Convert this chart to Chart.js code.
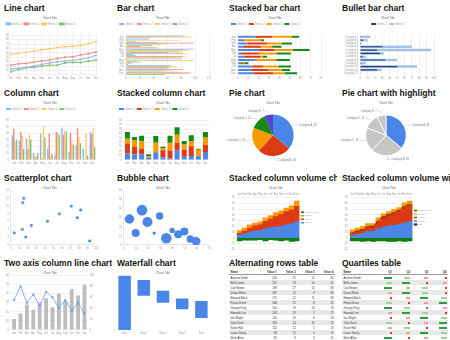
<!DOCTYPE html>
<html>
<head>
<meta charset="utf-8">
<script src="https://cdn.jsdelivr.net/npm/chart.js@4.4.1/dist/chart.umd.min.js"></script>
<style>
  html, body { margin: 0; padding: 0; background: #fff; }
  #grid { position: relative; width: 450px; height: 340px; overflow: hidden; }
  .cell { position: absolute; width: 112px; height: 85px; overflow: hidden; }
  .cell h3 { position: absolute; left: 4px; top: 3px; margin: 0; font: bold 8.5px 'Liberation Sans', sans-serif; white-space: nowrap; color: #151515; }
  .cell canvas { position: absolute; }
  table.tbl { position: absolute; left: 4px; top: 14px; width: 106px; border-collapse: collapse; font: 2.8px 'Liberation Sans', sans-serif; color: #333; }
  table.tbl td, table.tbl th { padding: 0.5px 1.5px; text-align: right; white-space: nowrap; height: 3.5px; }
  table.tbl td:first-child, table.tbl th:first-child { text-align: left; }
  table.tbl th { font-weight: bold; border-bottom: 0.5px solid #999; }
  table.tbl tr.alt td { background: #e9e9e9; }
  .qbar { display: inline-block; height: 2px; vertical-align: middle; }
</style>
</head>
<body>
<div id="grid"></div>
<script>
// ---- data ----
var months = ['Jan', 'Feb', 'Mar', 'Apr', 'May', 'Jun', 'Jul', 'Aug', 'Sep', 'Oct', 'Nov', 'Dec'];
var seriesNames = ['Series 1', 'Series 2', 'Series 3', 'Series 4'];

// line chart
var lineS1 = [13, 15, 17, 20, 24, 27, 30, 31, 33, 35, 39, 44];
var lineS2 = [22, 25, 26, 29, 32, 34, 37, 40, 41, 45, 48, 52];
var lineS3 = [47, 49, 51, 54, 57, 59, 62, 64, 65, 67, 71, 76];
var lineS4 = [7, 12, 16, 17, 20, 22, 22, 27, 28, 28, 31, 34];

// bar chart
var barS1 = [85, 33, 45, 38, 98, 60, 15, 80, 20, 65, 60, 75];
var barS2 = [78, 2, 98, 20, 85, 82, 82, 2, 8, 60, 82, 93];
var barS3 = [95, 78, 60, 40, 90, 88, 88, 98, 8, 75, 68, 92];
var barS4 = [36, 14, 50, 45, 78, 12, 70, 18, 3, 63, 55, 56];

// stacked bar chart
var sbarS1 = [17, 5, 9, 5, 20, 3, 6, 16, 3, 13, 12, 15];
var sbarS2 = [16, 1, 19, 17, 15, 17, 16, 1, 2, 11, 17, 19];
var sbarS3 = [19, 16, 14, 11, 18, 17, 2, 20, 1, 15, 13, 11];
var sbarS4 = [7, 3, 10, 9, 16, 14, 4, 13, 4, 12, 8, 12];

// bullet bar chart
var bulletCats = ['Category 1', 'Category 2', 'Category 3', 'Category 4', 'Category 5', 'Category 6',
                  'Category 7', 'Category 8', 'Category 9', 'Category 10', 'Category 11', 'Category 12'];
var bulletRange = [14, 10, 2, 70, 96, 32, 8, 50, 8, 77, 29, 1];
var bulletValue = [1, 4, 1, 30, 23, 27, 3, 34, 1, 50, 23, 0.5];

// column chart
var colS1 = [37, 29, 32, 10, 40, 17, 7, 49, 12, 22, 17, 42];
var colS2 = [47, 42, 16, 4, 2, 40, 42, 38, 41, 48, 1, 39];
var colS3 = [28, 36, 38, 6, 50, 6, 41, 44, 29, 35, 39, 48];
var colS4 = [31, 17, 31, 10, 34, 9, 38, 42, 23, 25, 7, 19];

// stacked column chart
var scolS1 = [15, 12, 13, 5, 17, 6, 3, 21, 7, 9, 8, 18];
var scolS2 = [22, 18, 12, 1, 1, 16, 18, 18, 16, 22, 1, 16];
var scolS3 = [11, 14, 17, 2, 21, 4, 18, 18, 12, 12, 14, 17];
var scolS4 = [15, 8, 13, 5, 15, 4, 16, 17, 8, 13, 2, 12];

// pie charts
var pieLabels = ['Category A', 'Category B', 'Category C', 'Category D', 'Category E'];
var pieValues = [36, 26, 19, 12, 7];

// scatter
var scatterX = [4, 14, 15, 13.5, 17.5, 24, 43, 57, 71, 78, 82, 92.6];
var scatterY = [3.1, 10.9, 12, 4, 2, 5, 6.1, 8, 10, 7, 9, 1];

// bubble
var bubbleX = [4.6, 9.7, 14.9, 19.4, 24.9, 29.4, 34.9, 39.7, 44.6, 49.7, 54.6, 59.4];
var bubbleY = [28.6, 13, 38.4, 25.3, 13, 32, 7.3, 15.9, 11.8, 14.7, 6.5, 4];
var bubbleR = [4.7, 4, 5.3, 5, 1.7, 3.7, 5.3, 2.7, 4, 4, 3.7, 4.3];

// stacked column volume chart
var volS1 = [5, 7, 10, 12, 13, 16, 18, 19, 20, 23, 25, 28];
var volS2 = [3, 5, 7, 9, 10, 13, 15, 18, 21, 23, 24, 27];
var volS3 = [5, 5, 6, 5, 5, 6, 6, 7, 6, 6, 7, 9];
var volNeg = [-5, -4, -4, -4, -3, -5, -3, -4, -5, -4, -6, -5];

// stacked column volume with total line
var vol2S1 = [4, 6, 8, 11, 12, 16, 19, 21, 22, 24, 26, 29];
var vol2S2 = [5, 6, 7, 8, 9, 13, 18, 20, 22, 24, 28, 29];
var vol2S3 = [5, 5, 5, 6, 4, 6, 5, 5, 6, 5, 7, 6];
var vol2Neg = [-5, -5, -6, -5, -6, -5, -5, -6, -6, -5, -6, -5];

// two axis column line chart
var twoAxisColumns = [12, 18, 28, 22, 30, 35, 25, 40, 32, 45, 38, 50];
var twoAxisLine = [55, 80, 50, 65, 45, 70, 60, 40, 55, 35, 50, 30];

// waterfall
var waterfallLabels = ['Start', 'Step 1', 'Step 2', 'Step 3', 'End'];
var waterfallFrom = [0, 92, 72, 58, 53];
var waterfallTo = [100, 63, 50, 38, 22];

// alternating rows table
var tableHead = ['Name', 'Value 1', 'Value 2', 'Value 3', 'Value 4'];
var tableNames = ['Andrew Smith', 'Bella Jones', 'Carl Brown', 'Diana White', 'Edward Black', 'Fiona Green',
                  'George King', 'Hannah Lee', 'Ian Wright', 'Julia Scott', 'Kevin Hall', 'Laura Young', 'Mark Allen'];
var tableV1 = [250, 212, 198, 187, 175, 166, 150, 143, 131, 120, 112, 98, 85];
var tableV2 = [31, 28, 27, 25, 22, 21, 19, 18, 16, 14, 12, 11, 9];
var tableV3 = [12, 10, 15, 9, 11, 8, 13, 7, 6, 10, 5, 4, 3];
var tableV4 = [45, 41, 38, 36, 33, 31, 29, 27, 24, 22, 19, 17, 15];

// quartiles table
var quartHead = ['Name', 'Q1', 'Q2', 'Q3', 'Q4'];
var quartNames = ['Andrew Smith', 'Bella Jones', 'Carl Brown', 'Diana White', 'Edward Black', 'Fiona Green',
                  'George King', 'Hannah Lee', 'Ian Wright', 'Julia Scott', 'Kevin Hall', 'Laura Young', 'Mark Allen'];
var quartQ1 = [4, 3, 4, 2, 1, 3, 4, 2, 1, 3, 2, 1, 4];
var quartQ2 = [3, 4, 2, 4, 2, 1, 3, 4, 2, 1, 3, 2, 1];
var quartQ3 = [2, 1, 3, 3, 4, 2, 1, 3, 4, 2, 1, 4, 2];
var quartQ4 = [1, 2, 1, 1, 3, 4, 2, 1, 3, 4, 4, 3, 3];

// ---- palettes ----
var soft = ['#93b6f2', '#ef8e80', '#fdc966', '#83c06d'];
var strong = ['#4a86e8', '#dc3a12', '#ff9900', '#138a13'];
var piePurple = '#5146c8';

// ---- layout ----
var cells = [
    ['Line chart', 'lineChart'], ['Bar chart', 'barChart'], ['Stacked bar chart', 'stackedBarChart'], ['Bullet bar chart', 'bulletChart'],
    ['Column chart', 'columnChart'], ['Stacked column chart', 'stackedColumnChart'], ['Pie chart', 'pieChart'], ['Pie chart with highlight', 'pieHighlightChart'],
    ['Scatterplot chart', 'scatterChart'], ['Bubble chart', 'bubbleChart'], ['Stacked column volume chart', 'volumeChart'], ['Stacked column volume with line', 'volumeLineChart'],
    ['Two axis column line chart', 'twoAxisChart'], ['Waterfall chart', 'waterfallChart'], ['Alternating rows table', 'altTable'], ['Quartiles table', 'quartTable']
];

var grid = document.getElementById('grid');
cells.forEach(function (c, i) {
    var div = document.createElement('div');
    div.className = 'cell';
    div.style.left = Math.round((i % 4) * 112.6) + 'px';
    div.style.top = (Math.floor(i / 4) * 85) + 'px';
    var h = document.createElement('h3');
    h.textContent = c[0];
    div.appendChild(h);
    if (c[1].indexOf('Table') < 0) {
        var cv = document.createElement('canvas');
        cv.id = c[1];
        cv.width = 100;
        cv.height = 70;
        cv.style.left = '2px';
        cv.style.top = '13px';
        div.appendChild(cv);
    } else {
        var t = document.createElement('table');
        t.id = c[1];
        t.className = 'tbl';
        div.appendChild(t);
    }
    grid.appendChild(div);
});

// ---- defaults ----
Chart.defaults.font.family = "'Liberation Sans', sans-serif";
Chart.defaults.font.size = 2.6;
Chart.defaults.color = '#9a9a9a';
Chart.defaults.animation = false;
Chart.defaults.responsive = false;
Chart.defaults.devicePixelRatio = 1;
Chart.defaults.plugins.tooltip.enabled = false;
Chart.defaults.plugins.title.display = true;
Chart.defaults.plugins.title.text = 'Chart Title';
Chart.defaults.plugins.title.color = '#666';
Chart.defaults.plugins.title.font = { size: 3, weight: 'normal' };
Chart.defaults.plugins.title.padding = { top: 3, bottom: 1 };
Chart.defaults.plugins.legend.align = 'start';
Chart.defaults.plugins.legend.labels.boxWidth = 5;
Chart.defaults.plugins.legend.labels.boxHeight = 2;
Chart.defaults.plugins.legend.labels.padding = 2;
Chart.defaults.layout.padding = { left: 2, right: 6, top: 0, bottom: 1 };
Chart.defaults.elements.point.radius = 0;

// axe commun : grille claire, pas de rotation des étiquettes
function axis(extra) {
    extra = extra || {};
    var a = Object.assign({}, extra);
    a.grid = Object.assign({ color: '#e6e6e6', drawTicks: false, lineWidth: 0.6 }, extra.grid || {});
    a.border = Object.assign({ display: false }, extra.border || {});
    a.ticks = Object.assign({ padding: 2, autoSkip: false, maxRotation: 0, minRotation: 0 }, extra.ticks || {});
    return a;
}

function el(id) {
    return document.getElementById(id).getContext('2d');
}

// Graphique: courbes
new Chart(el('lineChart'), {
    type: 'line',
    data: {
        labels: months,
        datasets: [lineS1, lineS2, lineS3, lineS4].map(function (d, i) {
            return { label: seriesNames[i], data: d, borderColor: soft[i], backgroundColor: soft[i], borderWidth: 1, pointRadius: 0.7 };
        })
    },
    options: {
        scales: {
            x: axis(),
            y: axis({ min: 0, max: 90, ticks: { stepSize: 10 } })
        }
    }
});

// Graphique: barres horizontales
new Chart(el('barChart'), {
    type: 'bar',
    data: {
        labels: months,
        datasets: [barS1, barS2, barS3, barS4].map(function (d, i) {
            return { label: seriesNames[i], data: d, backgroundColor: soft[i], categoryPercentage: 0.85, barPercentage: 1 };
        })
    },
    options: {
        indexAxis: 'y',
        scales: {
            x: axis({ min: 0, max: 120, ticks: { stepSize: 20 } }),
            y: axis({ grid: { display: false } })
        }
    }
});

// Graphique: barres empilées
new Chart(el('stackedBarChart'), {
    type: 'bar',
    data: {
        labels: months,
        datasets: [sbarS1, sbarS2, sbarS3, sbarS4].map(function (d, i) {
            return { label: seriesNames[i], data: d, backgroundColor: strong[i], categoryPercentage: 0.6, barPercentage: 1 };
        })
    },
    options: {
        indexAxis: 'y',
        scales: {
            x: axis({ stacked: true, min: 0, max: 80, ticks: { stepSize: 10 } }),
            y: axis({ stacked: true, grid: { display: false } })
        }
    }
});

// Graphique: barres bullet
new Chart(el('bulletChart'), {
    type: 'bar',
    data: {
        labels: bulletCats,
        datasets: [
            { label: 'Series 1', data: bulletRange, backgroundColor: '#a4c2e6', grouped: false, categoryPercentage: 0.75, barPercentage: 1, order: 1 },
            { label: 'Series 2', data: bulletValue, backgroundColor: '#1f3f72', grouped: false, categoryPercentage: 0.35, barPercentage: 1, order: 0 }
        ]
    },
    options: {
        indexAxis: 'y',
        plugins: { legend: { align: 'center' } },
        scales: {
            x: axis({ min: 0, max: 100, ticks: { stepSize: 10 } }),
            y: axis({ grid: { display: false } })
        }
    }
});

// Graphique: colonnes
new Chart(el('columnChart'), {
    type: 'bar',
    data: {
        labels: months,
        datasets: [colS1, colS2, colS3, colS4].map(function (d, i) {
            return { label: seriesNames[i], data: d, backgroundColor: soft[i], categoryPercentage: 0.8, barPercentage: 1 };
        })
    },
    options: {
        scales: {
            x: axis({ grid: { display: false } }),
            y: axis({ min: 0, max: 60, ticks: { stepSize: 10 } })
        }
    }
});

// Graphique: colonnes empilées
new Chart(el('stackedColumnChart'), {
    type: 'bar',
    data: {
        labels: months,
        datasets: [scolS1, scolS2, scolS3, scolS4].map(function (d, i) {
            return { label: seriesNames[i], data: d, backgroundColor: strong[i], categoryPercentage: 0.7, barPercentage: 1 };
        })
    },
    options: {
        scales: {
            x: axis({ stacked: true, grid: { display: false } }),
            y: axis({ stacked: true, min: 0, max: 90, ticks: { stepSize: 10 } })
        }
    }
});

// Étiquettes des secteurs avec traits de rappel
var sliceLabels = {
    id: 'sliceLabels',
    afterDatasetsDraw: function (chart) {
        var ctx = chart.ctx;
        var meta = chart.getDatasetMeta(0);
        var values = chart.data.datasets[0].data;
        ctx.save();
        ctx.font = "2.6px 'Liberation Sans', sans-serif";
        ctx.strokeStyle = '#aaa';
        ctx.fillStyle = '#777';
        ctx.lineWidth = 0.4;
        ctx.textBaseline = 'middle';
        meta.data.forEach(function (arc, i) {
            var p = arc.getProps(['x', 'y', 'startAngle', 'endAngle', 'outerRadius'], true);
            var a = (p.startAngle + p.endAngle) / 2;
            var cx = Math.cos(a), cy = Math.sin(a);
            var x1 = p.x + cx * (p.outerRadius + 1), y1 = p.y + cy * (p.outerRadius + 1);
            var x2 = p.x + cx * (p.outerRadius + 4), y2 = p.y + cy * (p.outerRadius + 4);
            var dir = cx >= 0 ? 1 : -1;
            var x3 = x2 + dir * 3;
            ctx.beginPath();
            ctx.moveTo(x1, y1);
            ctx.lineTo(x2, y2);
            ctx.lineTo(x3, y2);
            ctx.stroke();
            ctx.textAlign = dir > 0 ? 'left' : 'right';
            ctx.fillText(chart.data.labels[i] + ', ' + values[i], x3 + dir, y2);
        });
        ctx.restore();
    }
};

var pieOptions = {
    layout: { padding: { left: 0, right: 8, top: 0, bottom: 12 } },
    plugins: {
        legend: { display: false },
        title: { padding: { top: 3, bottom: 10 } }
    }
};

// Graphique: secteurs
new Chart(el('pieChart'), {
    type: 'pie',
    data: {
        labels: pieLabels,
        datasets: [{ data: pieValues, backgroundColor: [strong[0], strong[1], strong[2], strong[3], piePurple], borderWidth: 0 }]
    },
    options: pieOptions,
    plugins: [sliceLabels]
});

// Graphique: secteurs avec mise en valeur
new Chart(el('pieHighlightChart'), {
    type: 'pie',
    data: {
        labels: pieLabels,
        datasets: [{ data: pieValues, backgroundColor: [strong[0], '#c6c6c6', '#c6c6c6', '#c6c6c6', '#c6c6c6'], borderColor: '#fff', borderWidth: 0.8 }]
    },
    options: pieOptions,
    plugins: [sliceLabels]
});

// Graphique: nuage de points
new Chart(el('scatterChart'), {
    type: 'scatter',
    data: {
        datasets: [{
            label: 'Series 1',
            data: scatterX.map(function (x, i) { return { x: x, y: scatterY[i] }; }),
            backgroundColor: '#5b8ff0',
            borderColor: '#3f78e0',
            borderWidth: 0.4,
            pointRadius: 1.4,
            pointStyle: 'rectRounded'
        }]
    },
    options: {
        plugins: { legend: { display: false } },
        scales: {
            x: axis({ min: 0, max: 100, ticks: { stepSize: 10 }, grid: { display: false }, border: { display: true, color: '#ccc', width: 0.5 } }),
            y: axis({ min: 0, max: 14, ticks: { stepSize: 2 }, grid: { display: false }, border: { display: true, color: '#ccc', width: 0.5 } })
        }
    }
});

// Graphique: bulles
new Chart(el('bubbleChart'), {
    type: 'bubble',
    data: {
        datasets: [{
            label: 'Series 1',
            data: bubbleX.map(function (x, i) { return { x: x, y: bubbleY[i], r: bubbleR[i] }; }),
            backgroundColor: '#4a86e8',
            borderWidth: 0
        }]
    },
    options: {
        plugins: { legend: { display: false } },
        scales: {
            x: axis({ min: 0, max: 70, ticks: { stepSize: 10 }, grid: { display: false }, border: { display: true, color: '#ccc', width: 0.5 } }),
            y: axis({ min: 0, max: 60, ticks: { stepSize: 10 }, grid: { display: false }, border: { display: true, color: '#ccc', width: 0.5 } })
        }
    }
});

// Légende: série négative en premier, puis séries dans l'ordre inverse
var volRank = [0, 4, 3, 2, 5];
function volumeDatasets(s1, s2, s3, neg) {
    return [
        { label: 'Negative series', data: neg, backgroundColor: '#0b7d0b' },
        { label: 'Series 1', data: s1, backgroundColor: strong[0] },
        { label: 'Series 2', data: s2, backgroundColor: strong[1] },
        { label: 'Series 3', data: s3, backgroundColor: strong[2] }
    ].map(function (d) {
        d.categoryPercentage = 1;
        d.barPercentage = 1;
        d.stack = 'vol';
        return d;
    });
}
var volumeOptions = {
    layout: { padding: { left: 2, right: 4, top: 0, bottom: 1 } },
    plugins: {
        legend: {
            position: 'right',
            align: 'center',
            labels: {
                font: { size: 2 },
                boxWidth: 3,
                boxHeight: 1.5,
                padding: 1.5,
                sort: function (a, b) { return volRank[a.datasetIndex] - volRank[b.datasetIndex]; }
            }
        }
    },
    scales: {
        x: axis({ position: 'top', stacked: true, grid: { display: false } }),
        y: axis({ stacked: true, min: -20, max: 70, ticks: { stepSize: 10 } })
    }
};

// Graphique: volume empilé
new Chart(el('volumeChart'), {
    type: 'bar',
    data: { labels: months, datasets: volumeDatasets(volS1, volS2, volS3, volNeg) },
    options: volumeOptions
});

// Graphique: volume empilé avec total
var vol2Total = months.map(function (m, i) { return vol2S1[i] + vol2S2[i] + vol2S3[i] + vol2Neg[i]; });
var vol2Sets = volumeDatasets(vol2S1, vol2S2, vol2S3, vol2Neg);
vol2Sets.push({ type: 'line', label: 'Total', data: vol2Total, borderColor: '#4b2e14', backgroundColor: '#4b2e14', borderWidth: 0.7, order: -1 });
new Chart(el('volumeLineChart'), {
    type: 'bar',
    data: { labels: months, datasets: vol2Sets },
    options: volumeOptions
});

// Graphique: deux axes
new Chart(el('twoAxisChart'), {
    type: 'bar',
    data: {
        labels: months,
        datasets: [
            { type: 'line', label: 'Series 2', data: twoAxisLine, yAxisID: 'y1', borderColor: '#6b9ef2', backgroundColor: '#6b9ef2', borderWidth: 0.8, pointRadius: 0.8, order: 0 },
            { label: 'Series 1', data: twoAxisColumns, backgroundColor: '#bdbdbd', categoryPercentage: 0.6, barPercentage: 1, order: 1 }
        ]
    },
    options: {
        plugins: { legend: { display: false } },
        scales: {
            x: axis({ grid: { display: false } }),
            y: axis({ min: 0, max: 60, ticks: { stepSize: 10 } }),
            y1: axis({ position: 'right', min: 0, max: 100, ticks: { stepSize: 20 }, grid: { display: false } })
        }
    }
});

// Graphique: cascade
new Chart(el('waterfallChart'), {
    type: 'bar',
    data: {
        labels: waterfallLabels,
        datasets: [{
            label: 'Series 1',
            data: waterfallFrom.map(function (f, i) { return [f, waterfallTo[i]]; }),
            backgroundColor: '#4a86e8',
            categoryPercentage: 0.65,
            barPercentage: 1
        }]
    },
    options: {
        layout: { padding: { left: 0, right: 4, top: 0, bottom: 1 } },
        plugins: { legend: { display: false } },
        scales: {
            x: axis({ grid: { display: false } }),
            y: axis({ min: 0, max: 100, ticks: { display: false }, grid: { display: false } })
        }
    }
});

// Tableaux
function fillTable(id, head, rows, cellFn) {
    var t = document.getElementById(id);
    var tr = document.createElement('tr');
    head.forEach(function (h) {
        var th = document.createElement('th');
        th.textContent = h;
        tr.appendChild(th);
    });
    t.appendChild(tr);
    rows.forEach(function (r, ri) {
        var row = document.createElement('tr');
        if (ri % 2 === 1) row.className = 'alt';
        r.forEach(function (v, ci) {
            var td = document.createElement('td');
            cellFn(td, v, ci);
            row.appendChild(td);
        });
        t.appendChild(row);
    });
}

fillTable('altTable', tableHead,
    tableNames.map(function (n, i) { return [n, tableV1[i], tableV2[i], tableV3[i], tableV4[i]]; }),
    function (td, v) { td.textContent = v; });

var quartColors = { 1: '#d9392c', 2: '#f0a09a', 3: '#9fd49a', 4: '#2e9e3a' };
fillTable('quartTable', quartHead,
    quartNames.map(function (n, i) { return [n, quartQ1[i], quartQ2[i], quartQ3[i], quartQ4[i]]; }),
    function (td, v, ci) {
        if (ci === 0) { td.textContent = v; return; }
        var s = document.createElement('span');
        s.className = 'qbar';
        s.style.width = (v * 2) + 'px';
        s.style.background = quartColors[v];
        td.appendChild(s);
    });
</script>
</body>
</html>
